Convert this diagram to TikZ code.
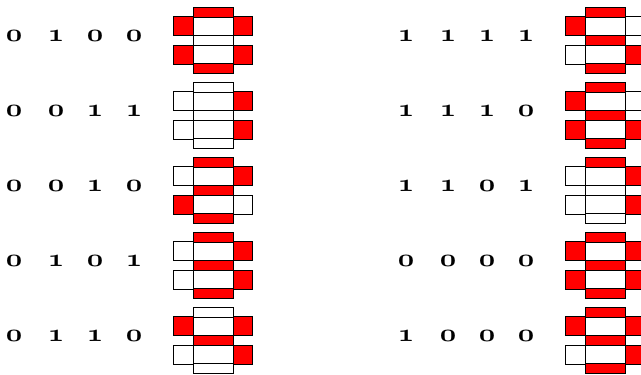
\documentclass[tikz,border=0pt]{standalone}
\usepackage{tikz}
\definecolor{segred}{RGB}{255,0,0}
\colorlet{on}{segred}
\colorlet{off}{white}
\newcommand\bitfont{\fontencoding{OML}\fontfamily{cmm}\fontseries{b}\fontshape{it}%
  \fontsize{24}{28}\selectfont}

\begin{document}
\begin{tikzpicture}[x=1pt,y=-1pt,
  seg/.style={draw=black,line width=0.9pt},
  bit/.style={inner sep=0pt,font=\bitfont,xscale=1.15,transform shape}
]
\useasboundingbox (0,0) rectangle (641,375);

% x, y, four bits, segments a b c d e f g (top, upper right, lower right,
% bottom, lower left, upper left, middle)
\foreach \dx/\dy/\p/\q/\r/\s/\a/\b/\c/\d/\e/\f/\g [count=\n] in {
   0/7/0/1/0/0/on/on/on/on/on/on/off,
   0/82/0/0/1/1/off/on/on/off/off/off/off,
   0/157/0/0/1/0/on/on/off/on/on/off/on,
   0/232/0/1/0/1/on/on/on/on/off/off/on,
   0/307/0/1/1/0/off/on/on/off/off/on/on,
   392/7/1/1/1/1/on/off/on/on/off/on/on,
   392/82/1/1/1/0/on/off/on/on/on/on/on,
   392/157/1/1/0/1/on/on/on/off/off/off/off,
   392/232/0/0/0/0/on/on/on/on/on/on/on,
   392/307/1/0/0/0/on/on/on/on/off/on/on}
{
  % the four input bits
  \node[bit] (bit\n-1) at (\dx+14,\dy+29) {\p};
  \node[bit] (bit\n-2) at (\dx+56,\dy+29) {\q};
  \node[bit] (bit\n-3) at (\dx+95,\dy+29) {\r};
  \node[bit] (bit\n-4) at (\dx+134,\dy+29) {\s};
  % the display
  \begin{scope}[shift={(\dx+173,\dy)}]
    \draw[seg,fill=white] (20,0) rectangle (60,66);
    \draw[seg,fill=\a] (20,0) rectangle (60,10);
    \draw[seg,fill=\b] (60,9) rectangle (79,28);
    \draw[seg,fill=\c] (60,38) rectangle (79,57);
    \draw[seg,fill=\d] (20,56) rectangle (60,66);
    \draw[seg,fill=\e] (0,38) rectangle (20,57);
    \draw[seg,fill=\f] (0,9) rectangle (20,28);
    \draw[seg,fill=\g] (20,28) rectangle (60,38);
  \end{scope}
}
\end{tikzpicture}
\end{document}
